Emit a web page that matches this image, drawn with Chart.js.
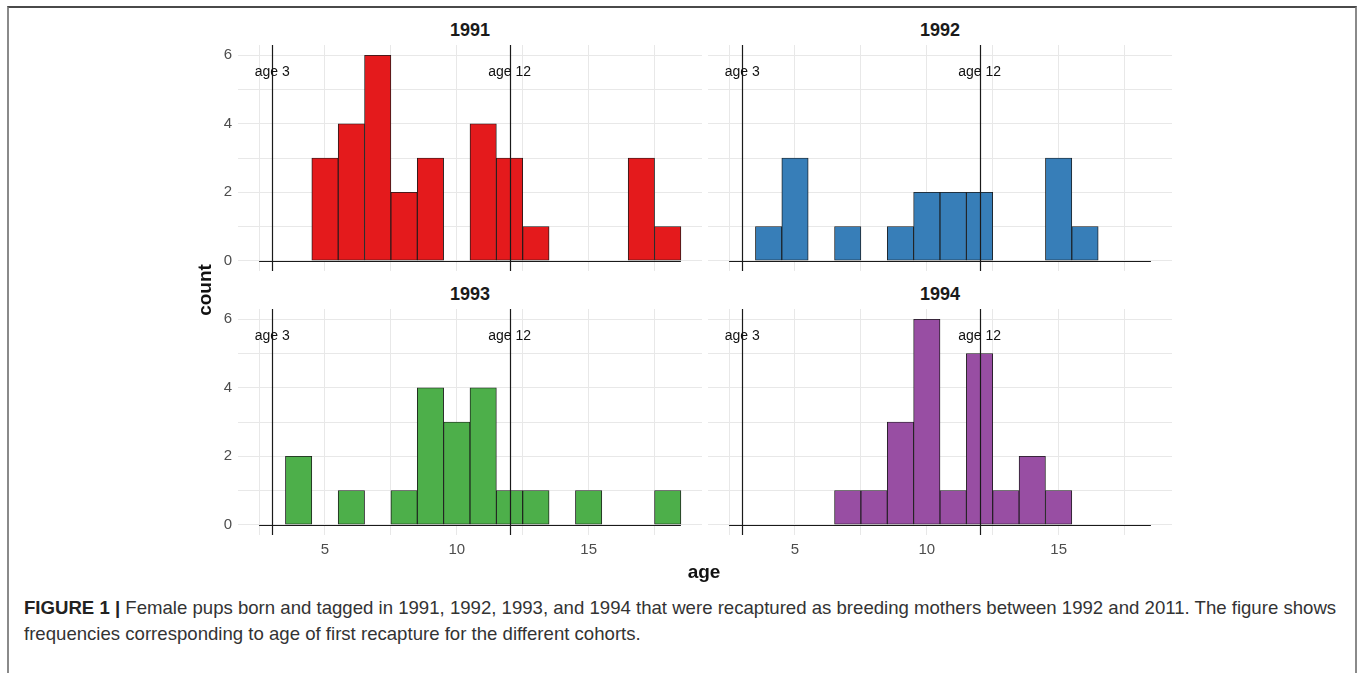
<!DOCTYPE html>
<html>
<head>
<meta charset="utf-8">
<script src="https://cdn.jsdelivr.net/npm/chart.js@4.4.1/dist/chart.umd.min.js"></script>
<style>
  html, body { margin: 0; padding: 0; background: #fff; }
  body { width: 1358px; height: 673px; position: relative; overflow: hidden; font-family: "Liberation Sans", Arial, sans-serif; }
  .frame { position: absolute; left: 7px; top: 6px; width: 1346px; height: 700px;
           border-top: 2px solid #4a4a4a; border-left: 2px solid #8a8a8a; border-right: 2px solid #8a8a8a; }
  canvas { position: absolute; }
  .strip { position: absolute; width: 464px; text-align: center; font-weight: bold; font-size: 18px; color: #1a1a1a; line-height: 20px; }
  .axtitle { position: absolute; font-weight: bold; font-size: 19px; color: #111; line-height: 22px; }
  .caption { position: absolute; left: 24px; top: 595px; width: 1330px; font-size: 18.6px; line-height: 26px; color: #333; white-space: nowrap; }
  .caption b { color: #222; }
</style>
</head>
<body>
<div class="frame"></div>

<div class="strip" style="left:238px; top:20px;">1991</div>
<div class="strip" style="left:708px; top:20px;">1992</div>
<div class="strip" style="left:238px; top:284px;">1993</div>
<div class="strip" style="left:708px; top:284px;">1994</div>

<canvas id="p1991"></canvas>
<canvas id="p1992"></canvas>
<canvas id="p1993"></canvas>
<canvas id="p1994"></canvas>

<div class="axtitle" style="left:177px; top:279px; width:56px; text-align:center; transform:rotate(-90deg);">count</div>
<div class="axtitle" style="left:680px; top:561px; width:48px; text-align:center;">age</div>

<div class="caption"><b>FIGURE 1 |</b> Female pups born and tagged in 1991, 1992, 1993, and 1994 that were recaptured as breeding mothers between 1992 and 2011. The figure shows<br>frequencies corresponding to age of first recapture for the different cohorts.</div>

<script>
// histogram bins (age, width 1) and counts per cohort
const bins = [3, 4, 5, 6, 7, 8, 9, 10, 11, 12, 13, 14, 15, 16, 17, 18];
const count1991 = [0, 0, 3, 4, 6, 2, 3, 0, 4, 3, 1, 0, 0, 0, 3, 1];
const count1992 = [0, 1, 3, 0, 1, 0, 1, 2, 2, 2, 0, 0, 3, 1, 0, 0];
const count1993 = [0, 2, 0, 1, 0, 1, 4, 3, 4, 1, 1, 0, 1, 0, 0, 1];
const count1994 = [0, 0, 0, 0, 1, 1, 3, 6, 1, 5, 1, 2, 1, 0, 0, 0];

// reference lines
const refAges = [3, 12];
const refLabels = ['age 3', 'age 12'];
const refLabelY = 5.5;

// axis ticks
const xGrid = [2.5, 5, 7.5, 10, 12.5, 15, 17.5];
const xTickLabels = [5, 10, 15];
const yGrid = [0, 1, 2, 3, 4, 5, 6];
const yTickLabels = [0, 2, 4, 6];

// panel layout (pixels) - chart area of each facet
const panels = [
    { id: 'p1991', counts: count1991, color: '#E41A1C', left: 238, top: 45, showX: false, showY: true },
    { id: 'p1992', counts: count1992, color: '#377EB8', left: 708, top: 45, showX: false, showY: false },
    { id: 'p1993', counts: count1993, color: '#4DAF4A', left: 238, top: 309, showX: true, showY: true },
    { id: 'p1994', counts: count1994, color: '#984EA3', left: 708, top: 309, showX: true, showY: false }
];
const PW = 464, PH = 226, YAXW = 40, XAXH = 30, PAD = 20;

// vlines, their labels and the zero baseline of the histogram
const refPlugin = {
    id: 'refLines',
    afterDatasetsDraw(chart) {
        const ctx = chart.ctx;
        const xs = chart.scales.x, ys = chart.scales.y;
        const area = chart.chartArea;
        ctx.save();
        ctx.strokeStyle = '#1a1a1a';
        ctx.lineWidth = 1;
        const y0 = Math.round(ys.getPixelForValue(0)) + 0.5;
        ctx.beginPath();
        ctx.moveTo(xs.getPixelForValue(bins[0] - 0.5), y0);
        ctx.lineTo(xs.getPixelForValue(bins[bins.length - 1] + 0.5), y0);
        ctx.stroke();

        ctx.lineWidth = 1.2;
        refAges.forEach(function (a) {
            const px = Math.round(xs.getPixelForValue(a)) + 0.5;
            ctx.beginPath();
            ctx.moveTo(px, area.top);
            ctx.lineTo(px, area.bottom);
            ctx.stroke();
        });

        ctx.fillStyle = '#111';
        ctx.font = '14px "Liberation Sans", Arial, sans-serif';
        ctx.textAlign = 'center';
        ctx.textBaseline = 'middle';
        refAges.forEach(function (a, i) {
            ctx.fillText(refLabels[i], xs.getPixelForValue(a), ys.getPixelForValue(refLabelY));
        });
        ctx.restore();
    }
};

const tickFont = { family: '"Liberation Sans", Arial, sans-serif', size: 15 };

panels.forEach(function (p) {
    const cv = document.getElementById(p.id);
    const yw = p.showY ? YAXW : 0;
    const xh = p.showX ? XAXH : 0;
    cv.width = PW + yw;
    cv.height = PAD + PH + (p.showX ? xh : PAD);
    cv.style.left = (p.left - yw) + 'px';
    cv.style.top = (p.top - PAD) + 'px';

    new Chart(cv, {
        type: 'bar',
        data: {
            datasets: [{
                data: bins.map((b, i) => ({ x: b, y: p.counts[i] })),
                backgroundColor: p.color,
                borderColor: '#1a1a1a',
                borderWidth: 0.9,
                borderSkipped: false,
                barPercentage: 1,
                categoryPercentage: 1
            }]
        },
        options: {
            responsive: false,
            animation: false,
            events: [],
            layout: { padding: { top: PAD, bottom: p.showX ? 0 : PAD, left: 0, right: 0 } },
            plugins: { legend: { display: false }, tooltip: { enabled: false } },
            scales: {
                x: {
                    type: 'linear',
                    min: 1.7,
                    max: 19.3,
                    offset: false,
                    border: { display: false },
                    grid: { color: '#e8e8e8', lineWidth: 1, drawTicks: false, offset: false },
                    afterBuildTicks: s => { s.ticks = xGrid.map(v => ({ value: v })); },
                    afterFit: s => { s.height = xh; },
                    ticks: {
                        display: p.showX,
                        padding: 6,
                        color: '#4d4d4d',
                        font: tickFont,
                        maxRotation: 0,
                        autoSkip: false,
                        callback: v => xTickLabels.includes(v) ? String(v) : ''
                    }
                },
                y: {
                    min: -0.3,
                    max: 6.3,
                    border: { display: false },
                    grid: { color: '#e8e8e8', lineWidth: 1, drawTicks: false },
                    afterBuildTicks: s => { s.ticks = yGrid.map(v => ({ value: v })); },
                    afterFit: s => { s.width = yw; },
                    ticks: {
                        display: p.showY,
                        padding: 6,
                        color: '#4d4d4d',
                        font: tickFont,
                        autoSkip: false,
                        callback: v => yTickLabels.includes(v) ? String(v) : ''
                    }
                }
            }
        },
        plugins: [refPlugin]
    });
});
</script>
</body>
</html>
